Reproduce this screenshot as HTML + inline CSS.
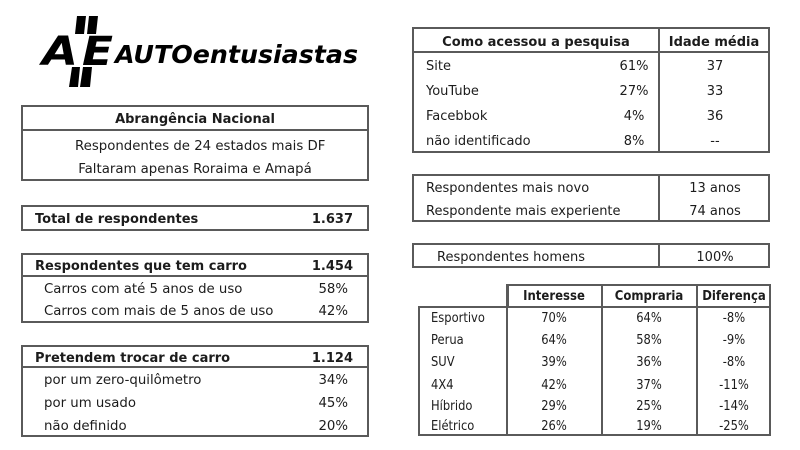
<!DOCTYPE html>
<html>
<head>
<meta charset="utf-8">
<style>
html,body{margin:0;padding:0;background:#fff;}
body{width:800px;height:450px;position:relative;overflow:hidden;font-family:"DejaVu Sans","Liberation Sans",sans-serif;font-size:13px;color:#1c1c1c;}
.b{position:absolute;box-sizing:border-box;border:2px solid #5a5a5a;}
.h{position:absolute;height:2px;background:#5a5a5a;}
.v{position:absolute;width:2px;background:#5a5a5a;}
.t{position:absolute;line-height:16px;white-space:nowrap;}
.c{width:240px;text-align:center;}
.bd{font-weight:bold;}
.L{font-size:13.3px;}
.L.bd{font-size:13px;}
.s{font-size:13px;transform:scaleX(0.885);transform-origin:0 50%;}
.s.c{transform-origin:50% 50%;}
.s.bd{transform:scaleX(0.9);}
</style>
</head>
<body>

<svg style="position:absolute;left:0;top:0" width="400" height="100" viewBox="0 0 400 100">
  <polygon points="77,16 86,16 84,34 75,34" fill="#000"/>
  <polygon points="89,16 98,16 96,34 87,34" fill="#000"/>
  <polygon points="72,67 80,67 78,87 69,87" fill="#000"/>
  <polygon points="83,67 92,67 90,87 80,87" fill="#000"/>
  <text x="42" y="65" font-family="DejaVu Sans, sans-serif" font-weight="bold" font-style="italic" font-size="40" textLength="36" lengthAdjust="spacingAndGlyphs" fill="#000">A</text>
  <text x="82" y="65" font-family="DejaVu Sans, sans-serif" font-weight="bold" font-style="italic" font-size="40" textLength="31" lengthAdjust="spacingAndGlyphs" fill="#000">E</text>
  <text x="115" y="63" font-family="DejaVu Sans, sans-serif" font-weight="bold" font-style="italic" font-size="25" textLength="243" lengthAdjust="spacingAndGlyphs" fill="#000">AUTOentusiastas</text>
</svg>

<!-- Abrangência -->
<div class="b" style="left:21px;top:105px;width:348px;height:76px"></div>
<div class="h" style="left:21px;top:129px;width:348px"></div>
<div class="t c bd L" style="left:75px;top:112px">Abrangência Nacional</div>
<div class="t c L" style="left:75px;top:139px">Respondentes de 24 estados mais DF</div>
<div class="t c L" style="left:75px;top:162px">Faltaram apenas Roraima e Amapá</div>

<!-- Total -->
<div class="b" style="left:21px;top:205px;width:348px;height:26px"></div>
<div class="t bd L" style="left:35px;top:212px">Total de respondentes</div>
<div class="t bd L" style="right:447px;top:212px">1.637</div>

<!-- Respondentes que tem carro -->
<div class="b" style="left:21px;top:253px;width:348px;height:70px"></div>
<div class="h" style="left:21px;top:275px;width:348px"></div>
<div class="t bd L" style="left:35px;top:259px">Respondentes que tem carro</div>
<div class="t bd L" style="right:447px;top:259px">1.454</div>
<div class="t L" style="left:44px;top:282px">Carros com até 5 anos de uso</div>
<div class="t L" style="right:452px;top:282px">58%</div>
<div class="t L" style="left:44px;top:304px">Carros com mais de 5 anos de uso</div>
<div class="t L" style="right:452px;top:304px">42%</div>

<!-- Pretendem -->
<div class="b" style="left:21px;top:345px;width:348px;height:92px"></div>
<div class="h" style="left:21px;top:366px;width:348px"></div>
<div class="t bd L" style="left:35px;top:351px">Pretendem trocar de carro</div>
<div class="t bd L" style="right:447px;top:351px">1.124</div>
<div class="t L" style="left:44px;top:373px">por um zero-quilômetro</div>
<div class="t L" style="right:452px;top:373px">34%</div>
<div class="t L" style="left:44px;top:396px">por um usado</div>
<div class="t L" style="right:452px;top:396px">45%</div>
<div class="t L" style="left:44px;top:419px">não definido</div>
<div class="t L" style="right:452px;top:419px">20%</div>

<!-- Como acessou -->
<div class="b" style="left:412px;top:27px;width:358px;height:126px"></div>
<div class="h" style="left:412px;top:51px;width:358px"></div>
<div class="v" style="left:658px;top:27px;height:126px"></div>
<div class="t c bd" style="left:416px;top:35px">Como acessou a pesquisa</div>
<div class="t c bd" style="left:594px;top:35px">Idade média</div>
<div class="t" style="left:426px;top:59px">Site</div>
<div class="t c" style="left:514px;top:59px">61%</div>
<div class="t c" style="left:595px;top:59px">37</div>
<div class="t" style="left:426px;top:84px">YouTube</div>
<div class="t c" style="left:514px;top:84px">27%</div>
<div class="t c" style="left:595px;top:84px">33</div>
<div class="t" style="left:426px;top:109px">Facebbok</div>
<div class="t c" style="left:514px;top:109px">4%</div>
<div class="t c" style="left:595px;top:109px">36</div>
<div class="t" style="left:426px;top:134px">não identificado</div>
<div class="t c" style="left:514px;top:134px">8%</div>
<div class="t c" style="left:595px;top:134px">--</div>

<!-- mais novo -->
<div class="b" style="left:412px;top:174px;width:358px;height:48px"></div>
<div class="v" style="left:658px;top:174px;height:48px"></div>
<div class="t" style="left:426px;top:181px">Respondentes mais novo</div>
<div class="t c" style="left:595px;top:181px">13 anos</div>
<div class="t" style="left:426px;top:204px">Respondente mais experiente</div>
<div class="t c" style="left:595px;top:204px">74 anos</div>

<!-- homens -->
<div class="b" style="left:412px;top:243px;width:358px;height:25px"></div>
<div class="v" style="left:658px;top:243px;height:25px"></div>
<div class="t" style="left:437px;top:250px">Respondentes homens</div>
<div class="t c" style="left:595px;top:250px">100%</div>

<!-- tipos -->
<div class="b" style="left:507px;top:284px;width:264px;height:24px"></div>
<div class="b" style="left:418px;top:306px;width:353px;height:130px"></div>
<div class="v" style="left:506px;top:284px;height:152px"></div>
<div class="v" style="left:601px;top:284px;height:152px"></div>
<div class="v" style="left:696px;top:284px;height:152px"></div>
<div class="t c bd s" style="left:434px;top:289px">Interesse</div>
<div class="t c bd s" style="left:529px;top:289px">Compraria</div>
<div class="t c bd s" style="left:614px;top:289px">Diferença</div>

<div class="t s" style="left:431px;top:311px">Esportivo</div>
<div class="t c s" style="left:434px;top:311px">70%</div>
<div class="t c s" style="left:529px;top:311px">64%</div>
<div class="t c s" style="left:614px;top:311px">-8%</div>

<div class="t s" style="left:431px;top:333px">Perua</div>
<div class="t c s" style="left:434px;top:333px">64%</div>
<div class="t c s" style="left:529px;top:333px">58%</div>
<div class="t c s" style="left:614px;top:333px">-9%</div>

<div class="t s" style="left:431px;top:355px">SUV</div>
<div class="t c s" style="left:434px;top:355px">39%</div>
<div class="t c s" style="left:529px;top:355px">36%</div>
<div class="t c s" style="left:614px;top:355px">-8%</div>

<div class="t s" style="left:431px;top:378px">4X4</div>
<div class="t c s" style="left:434px;top:378px">42%</div>
<div class="t c s" style="left:529px;top:378px">37%</div>
<div class="t c s" style="left:614px;top:378px">-11%</div>

<div class="t s" style="left:431px;top:399px">Híbrido</div>
<div class="t c s" style="left:434px;top:399px">29%</div>
<div class="t c s" style="left:529px;top:399px">25%</div>
<div class="t c s" style="left:614px;top:399px">-14%</div>

<div class="t s" style="left:431px;top:419px">Elétrico</div>
<div class="t c s" style="left:434px;top:419px">26%</div>
<div class="t c s" style="left:529px;top:419px">19%</div>
<div class="t c s" style="left:614px;top:419px">-25%</div>

</body>
</html>
